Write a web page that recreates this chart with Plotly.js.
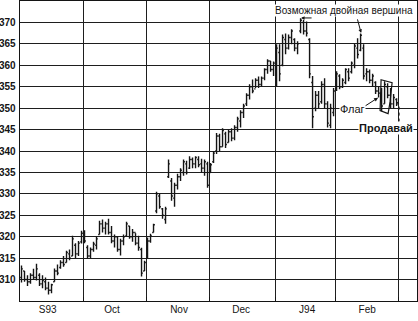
<!DOCTYPE html>
<html><head><meta charset="utf-8">
<script src="https://cdn.plot.ly/plotly-3.0.1.min.js"></script>
<style>html,body{margin:0;padding:0;background:#fff}#c{width:418px;height:321px}</style>
</head><body><div id="c"></div>
<script>
// Daily bars, Sep 1993 .. Feb 1994 (trading-day order)
const high = [313.3,312,311,311.5,312.5,313.7,311.5,311,310.5,309.5,309,312.6,313.5,314.5,315.5,316.7,317,320.2,318.5,319,321.4,
 321.5,318,317.5,318.8,320,323.7,324,323.5,324.2,322.5,320.5,320,319.5,320.5,323.5,322.5,321.8,320.8,320.2,317.4,314.4,
 319.8,320.7,323,330.5,330,326.7,327,338,333.7,332.6,334.7,336,338,337.7,338.8,338.5,338.8,338.8,338.2,338,337.5,
 337.2,340,344.2,344,345.3,344.5,345,345.3,346,348,349.5,351,353.5,355.6,356.7,357,357.4,357.4,359.3,361.4,361,360.9,
 364.9,364.9,367.2,367.4,367.2,368.4,366.3,365.6,371,370.6,370.2,366.3,357.5,354,354,356.3,357,351.6,351,354.7,
 358.6,357.9,357,359.3,359.3,360.9,365,366.3,367.4,364.9,359.3,359,358,356.3,355,354.7,356.3,355.8,354.7,353.3,352.3];
const low = [309.3,309.5,308.5,309,310,309.8,308.5,308,307.5,306.5,306.8,309.5,311,312.5,313,314,314.5,315.5,315,315.5,318.4,
 318.5,314.8,315,316.5,317,320.5,321,320.5,320.5,318.5,317.5,316.5,315.6,318,320,319.5,318.8,318,316.7,310.7,312,
 315,318.6,321,325.5,326.5,324.2,323,333.7,328.4,327,331,333,334.2,334.5,335.8,336,336,336.2,335,334.2,331.4,
 334.9,337.2,339.3,340,341,340.7,342,342.3,342.5,344.5,345.5,347.7,350.5,352,353.5,354.7,354.7,355,356.5,358,358.5,357.5,
 355,356.3,359.8,362.6,363.7,364.9,363.3,362.6,367.5,367.2,366.7,357,345.3,349.3,350,351,350,345.5,345.3,348.1,
 354,354.4,354.7,355.6,356.3,358.1,359.3,361.6,363.3,356.7,356.3,355.8,355,353.3,352.5,349.3,351,352.3,350,350,350.5];
const open = [310.5,312,310,309.5,311,310.5,311,309,309.5,308,307.5,309.5,312,312.8,314,314,316,315.5,318,316,318.8,
 320.5,317.5,315.5,317,318,320.5,323,322,323,321,319,320,317,319,320.2,322.5,320,321,318.5,317,312,
 315,319,321,326,329.5,326.5,324,334,333,329,332,334,335,337,336,338,337,338,337,336,337,
 335,337.5,340,343.5,341,344,342,344.5,343,345.5,347,349,351,353,355,354.5,356.5,355.5,357,359,361,359,
 357,363,360,366,364,366.5,366,364,368,370,368,366,356,350,353,351.5,355.5,351,346,349,
 354.5,357.5,355,356,358.5,358.5,360,364,363.5,364,358,358.5,356.5,356,354,353.5,351,355,353,351,352];
const close = [312.5,310,309.5,311,310.5,312.5,309,309.8,308,307.5,308.8,312,311.5,314,313.5,316.3,315,319.5,316,318.5,320.8,
 319,315.5,317,318.3,319.5,323,322,323,321,319,320,317,319,320,323,320,321,318.5,317.5,311.5,314,
 319,320.2,322.8,330,327,325,326.5,337,329.5,332,334,335.5,337.5,335,338,337,338.5,336.8,336,337.5,332,
 336.8,339.5,343.5,341,344.8,341.5,344.5,343,345.5,347.5,349,350.5,353,355,354,356.5,355.5,357,359,361,359,360.5,
 364,358,366.5,364,366.5,368,364,365,370.5,368,367.5,358,348,353,351,355.5,351,346.5,350,354,
 358,355,356.5,359,357,360.5,364.5,362.5,367,357.5,358.5,356.5,357.5,354,353.5,350.5,355.5,353,351,352.5,351];

// month gridlines (between trading days) and month labels
const monthBounds = [20.5, 41.5, 62.5, 84.5, 104.5, 125.5];
const monthLabelPos = [8.7, 30.2, 52.5, 73.2, 95.2, 115.2];
const monthLabels = ['S93', 'Oct', 'Nov', 'Dec', 'J94', 'Feb'];
const priceTicks = [310, 315, 320, 325, 330, 335, 340, 345, 350, 355, 360, 365, 370];

const day = high.map((_, i) => i);

const ink = '#141414';
const grid = '#1e1e1e';
const trace = {
  type: 'ohlc', x: day, open: open, high: high, low: low, close: close,
  increasing: {line: {color: ink, width: 1.4}},
  decreasing: {line: {color: ink, width: 1.4}},
  tickwidth: 0.45, hoverinfo: 'skip', showlegend: false
};

// pixel -> data helpers for annotation placement
const px = p => (p - 20) / 3 - 0.5;
const py = p => 375 - p / 4.3;

const flagPath = 'M ' + px(381) + ' ' + py(79) + ' L ' + px(392) + ' ' + py(82) +
  ' L ' + px(390) + ' ' + py(101) + ' L ' + px(388) + ' ' + py(113) + ' L ' + px(380) + ' ' + py(110) + ' Z';
const sellPath = 'M ' + px(399) + ' ' + py(121) + ' L ' + px(399) + ' ' + py(103) + ' L ' + px(395) + ' ' + py(100);

const font = {family: 'Liberation Sans, Arial, sans-serif', color: ink};

const layout = {
  width: 418, height: 321,
  margin: {l: 20, r: 1, t: 1, b: 20},
  paper_bgcolor: '#fff', plot_bgcolor: '#fff',
  showlegend: false,
  xaxis: {
    range: [-0.5, 131.8], rangeslider: {visible: false},
    tickmode: 'array', tickvals: monthLabelPos, ticktext: monthLabels,
    ticks: '', showgrid: false, zeroline: false,
    showline: true, mirror: true, linecolor: ink, linewidth: 1.3,
    tickfont: Object.assign({size: 10}, font), ticklabelstandoff: -1,
    minor: {tickmode: 'array', tickvals: monthBounds, showgrid: true, gridcolor: grid, gridwidth: 1,
            ticks: 'inside', ticklen: 4, tickcolor: ink}
  },
  yaxis: {
    range: [305, 375], tickmode: 'array', tickvals: priceTicks,
    ticks: '', showgrid: true, gridcolor: grid, gridwidth: 1, zeroline: false,
    showline: true, mirror: true, linecolor: ink, linewidth: 1.3,
    tickfont: Object.assign({size: 10, weight: 'bold'}, font), ticklabelstandoff: 1
  },
  shapes: [
    {type: 'path', path: flagPath, xref: 'x', yref: 'y', line: {color: ink, width: 1.2}},
    {type: 'path', path: sellPath, xref: 'x', yref: 'y', line: {color: ink, width: 1, dash: 'dot'}}
  ],
  annotations: [
    {x: px(344), y: py(10), xref: 'x', yref: 'y', text: 'Возможная двойная вершина', showarrow: false,
     font: Object.assign({size: 10}, font), bgcolor: '#fff', borderpad: 0},
    {x: px(301), y: py(17), ax: 12, ay: 0, xref: 'x', yref: 'y', text: '', showarrow: true,
     arrowhead: 2, arrowsize: 0.7, arrowwidth: 1, arrowcolor: ink},
    {x: px(361), y: py(32), ax: -4, ay: -15, xref: 'x', yref: 'y', text: '', showarrow: true,
     arrowhead: 2, arrowsize: 0.7, arrowwidth: 1, arrowcolor: ink},
    {x: px(352), y: py(108), xref: 'x', yref: 'y', text: 'Флаг', showarrow: false,
     font: Object.assign({size: 11}, font), bgcolor: '#fff', borderpad: 0},
    {x: px(378), y: py(97), ax: -14, ay: 9, xref: 'x', yref: 'y', text: '', showarrow: true,
     arrowhead: 2, arrowsize: 0.8, arrowwidth: 1, arrowcolor: ink},
    {x: px(386), y: py(127), xref: 'x', yref: 'y', text: '<b>Продавай</b>', showarrow: false,
     font: Object.assign({size: 11}, font), bgcolor: '#fff', borderpad: 0}
  ]
};

Plotly.newPlot('c', [trace], layout, {staticPlot: true, displayModeBar: false});
</script></body></html>
